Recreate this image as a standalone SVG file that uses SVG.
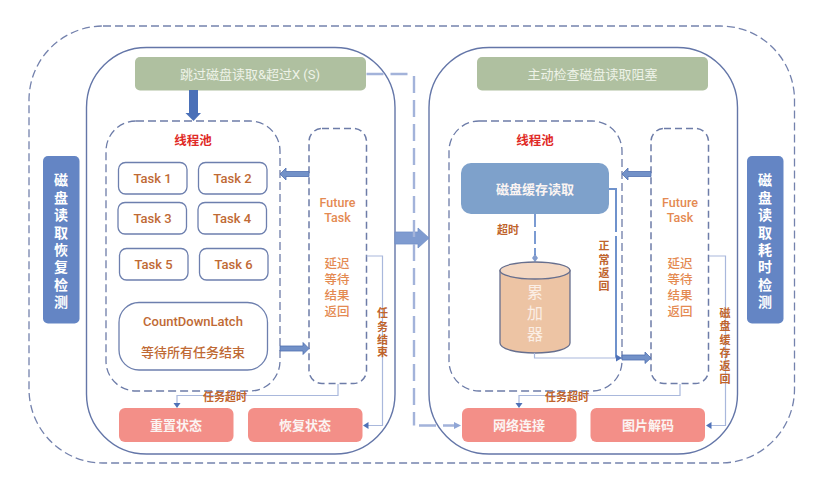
<svg xmlns="http://www.w3.org/2000/svg" width="826" height="478" viewBox="0 0 826 478">
  <style>
    text { font-family: "Roboto", "Noto Sans CJK SC", sans-serif; text-anchor: middle; }
    .outer { fill: none; stroke: #7482ad; stroke-width: 1.3; stroke-dasharray: 8 4; }
    .panel { fill: #fff; stroke: #6476a8; stroke-width: 1.4; }
    .pool { fill: #fff; stroke: #6d7ca8; stroke-width: 1.3; stroke-dasharray: 8 4; }
    .future { fill: #fff; stroke: #6d7ca8; stroke-width: 1.5; stroke-dasharray: 7 4; }
    .green { fill: #afc0a0; }
    .side { fill: #6485c4; }
    .task { fill: #fff; stroke: #6d7fae; stroke-width: 1.3; }
    .pink { fill: #f38f88; }
    .cache { fill: #7ea1cb; }
    .white { fill: #eef3e8; font-size: 13px; }
    .whitebold { fill: #fbf4f2; font-size: 13px; font-weight: 700; }
    .sidetext { fill: #fff; font-size: 14px; font-weight: 700; }
    .red { fill: #e02a26; font-size: 12.500px; font-weight: 700; }
    .brown { fill: #bf6a35; font-size: 13px; font-weight: 500; }
    .small { fill: #bf642c; font-size: 11px; font-weight: 700; }
    .orange { fill: #e48a52; font-size: 12.500px; font-weight: 500; }
    .thin { fill: none; stroke: #a9b8dc; stroke-width: 1.2; }
    .dash { fill: none; stroke: #a3b3da; stroke-width: 2.400; stroke-dasharray: 17 7; }
    .dash2 { fill: none; stroke: #7b9bd2; stroke-width: 2; stroke-dasharray: 13 4; }
    .block { fill: #7291c8; stroke: #4f6fb0; stroke-width: 0.8; }
    .tip { fill: #4f72b8; }
  </style>

  <rect id="frame" class="outer" x="29" y="26" width="765.500" height="437" rx="74"/>

  <g id="left-panel"><rect class="panel" x="86.500" y="47.500" width="308.500" height="406.500" rx="60"/></g>
  <g id="right-panel"><rect class="panel" x="429" y="47.500" width="308.500" height="406.500" rx="60"/></g>

  <g id="left-side"><rect class="side" x="43" y="156" width="36.500" height="167.500" rx="5"/>
    <text class="sidetext"><tspan x="61" y="185">磁</tspan><tspan x="61" y="203">盘</tspan><tspan x="61" y="220">读</tspan><tspan x="61" y="238">取</tspan><tspan x="61" y="255">恢</tspan><tspan x="61" y="272">复</tspan><tspan x="61" y="290">检</tspan><tspan x="61" y="307">测</tspan></text>
  </g>
  <g id="right-side"><rect class="side" x="747" y="156" width="36.500" height="167.500" rx="5"/>
    <text class="sidetext"><tspan x="765" y="185">磁</tspan><tspan x="765" y="203">盘</tspan><tspan x="765" y="220">读</tspan><tspan x="765" y="238">取</tspan><tspan x="765" y="255">耗</tspan><tspan x="765" y="272">时</tspan><tspan x="765" y="290">检</tspan><tspan x="765" y="307">测</tspan></text>
  </g>

  <g id="skip-read"><rect class="green" x="135" y="57" width="231" height="33.500" rx="5"/>
    <text class="white" x="250" y="79">跳过磁盘读取&amp;超过X (S)</text></g>
  <g id="active-check"><rect class="green" x="477" y="57" width="231" height="33.500" rx="5"/>
    <text class="white" x="592.500" y="79">主动检查磁盘读取阻塞</text></g>

  <g id="left-pool"><rect class="pool" x="106" y="121" width="174" height="270" rx="30"/>
    <text class="red" x="193" y="145">线程池</text></g>
  <g id="right-pool"><rect class="pool" x="449" y="121" width="173" height="270" rx="30"/>
    <text class="red" x="535" y="145">线程池</text></g>

  <g id="left-future"><rect class="future" x="309" y="128.500" width="57.500" height="255" rx="13"/>
    <text class="orange"><tspan x="337.500" y="207">Future</tspan><tspan x="337.500" y="222">Task</tspan><tspan x="337" y="268">延迟</tspan><tspan x="337" y="284">等待</tspan><tspan x="337" y="300">结果</tspan><tspan x="337" y="316">返回</tspan></text></g>
  <g id="right-future"><rect class="future" x="651" y="128.500" width="57.500" height="255" rx="13"/>
    <text class="orange"><tspan x="680" y="207">Future</tspan><tspan x="680" y="222">Task</tspan><tspan x="680" y="268">延迟</tspan><tspan x="680" y="284">等待</tspan><tspan x="680" y="300">结果</tspan><tspan x="680" y="316">返回</tspan></text></g>

  <g id="task-1"><rect class="task" x="118.500" y="162.500" width="68.500" height="31.500" rx="7"/><text class="brown" x="152.500" y="183">Task 1</text></g>
  <g id="task-2"><rect class="task" x="198.500" y="162.500" width="68.500" height="31.500" rx="7"/><text class="brown" x="232.500" y="183">Task 2</text></g>
  <g id="task-3"><rect class="task" x="118" y="202.500" width="68.500" height="31.500" rx="7"/><text class="brown" x="152.500" y="223">Task 3</text></g>
  <g id="task-4"><rect class="task" x="198" y="202.500" width="68.500" height="31.500" rx="7"/><text class="brown" x="232" y="223">Task 4</text></g>
  <g id="task-5"><rect class="task" x="119.500" y="248.500" width="68.500" height="31.500" rx="7"/><text class="brown" x="153.500" y="269">Task 5</text></g>
  <g id="task-6"><rect class="task" x="199.500" y="248.500" width="68.500" height="31.500" rx="7"/><text class="brown" x="233.500" y="269">Task 6</text></g>
  <g id="latch"><rect class="task" x="119" y="302.500" width="148.500" height="67.500" rx="20"/>
    <text class="brown"><tspan x="193" y="326">CountDownLatch</tspan><tspan x="193" y="357">等待所有任务结束</tspan></text></g>

  <g id="disk-cache"><rect class="cache" x="461" y="163" width="148" height="51" rx="10"/>
    <text class="whitebold" x="535" y="194">磁盘缓存读取</text></g>

  <g id="counter">
    <path d="M500 270.500V343C500 349 516 353 535 353S570 349 570 343V270.500Z" fill="#edc4a4" stroke="#676f8e" stroke-width="1.3"/>
    <ellipse cx="535" cy="270.500" rx="35" ry="8.500" fill="#f3d7c2" stroke="#676f8e" stroke-width="1.3"/>
    <text fill="#fbeee4" font-size="16"><tspan x="535" y="298">累</tspan><tspan x="535" y="319">加</tspan><tspan x="535" y="340">器</tspan></text>
  </g>

  <g id="reset-state"><rect class="pink" x="119" y="408" width="114.500" height="34" rx="6"/><text class="whitebold" x="176" y="430">重置状态</text></g>
  <g id="recover-state"><rect class="pink" x="248" y="408" width="114.500" height="34" rx="6"/><text class="whitebold" x="305" y="430">恢复状态</text></g>
  <g id="network"><rect class="pink" x="462" y="408" width="114.500" height="34" rx="6"/><text class="whitebold" x="519" y="430">网络连接</text></g>
  <g id="decode"><rect class="pink" x="590.500" y="408" width="114.500" height="34" rx="6"/><text class="whitebold" x="648" y="430">图片解码</text></g>

  <g id="connectors">
    <!-- heavy arrow into the left pool -->
    <path d="M189 90H198V113H201L193.500 121L185.500 113H189Z" fill="#4a70b8"/>
    <!-- block arrows between pools and future columns -->
    <path class="block" d="M309 171.500V176.500H286V180L280 174L286 168V171.500Z"/>
    <path class="block" d="M280 346V351H303V354.500L309 348.500L303 342.500V346Z"/>
    <path class="block" d="M651 171.500V176.500H628V180L622 174L628 168V171.500Z"/>
    <path class="block" d="M622 355V360H645V363.500L651 358L645 352V355Z"/>
    <!-- wide arrow between the panels -->
    <path d="M395 232H418V228L429 238L418 248V244H395Z" fill="#7f9bd0" stroke="#7290c8" stroke-width="0.8"/>
    <!-- dashed route from the skip box to the network box -->
    <path class="dash" d="M366.500 74H411"/>
    <path class="dash" d="M414 76V425.500"/>
    <path class="dash" d="M419 425.500H456" stroke-dasharray="15 4"/>
    <path d="M461 425.500L454 422V429Z" fill="#90a6d6"/>
    <!-- cache read routes -->
    <path class="dash2" d="M535 214V255"/>
    <path class="tip" d="M535 254L538 258L535 262L532 258Z" fill-opacity="0.7"/>
    <path d="M609 189H616V358" fill="none" stroke="#6f92cc" stroke-width="2" stroke-dasharray="50 4 200"/>
    <path class="thin" d="M534.500 353V358H617"/>
    <path class="tip" d="M622 358L616 354.500V361.500Z"/>
    <!-- timeout returns -->
    <path class="thin" d="M338 384V395.500H177V403"/>
    <path class="tip" d="M177 408L173.500 403H180.500Z"/>
    <path class="thin" d="M680 384V395.500H519V403"/>
    <path class="tip" d="M519 408L515.500 403H522.500Z"/>
    <!-- completion returns -->
    <path class="thin" d="M366.500 256H382.500V425.500H368"/>
    <path class="tip" d="M363 425.500L368.500 422V429Z"/>
    <path class="thin" d="M709 256H725.500V425.500H711"/>
    <path class="tip" d="M706 425.500L711.500 422V429Z"/>
  </g>

  <g id="labels">
    <text class="small" x="225" y="401">任务超时</text>
    <text class="small" x="567" y="401">任务超时</text>
    <text class="small" x="508" y="234">超时</text>
    <text class="small"><tspan x="604" y="250">正</tspan><tspan x="604" y="264">常</tspan><tspan x="604" y="277">返</tspan><tspan x="604" y="290">回</tspan></text>
    <text class="small"><tspan x="382.500" y="317">任</tspan><tspan x="382.500" y="331">务</tspan><tspan x="382.500" y="344">结</tspan><tspan x="382.500" y="356">束</tspan></text>
    <text class="small"><tspan x="725" y="317">磁</tspan><tspan x="725" y="330">盘</tspan><tspan x="725" y="344">缓</tspan><tspan x="725" y="357">存</tspan><tspan x="725" y="370">返</tspan><tspan x="725" y="383">回</tspan></text>
  </g>
</svg>
